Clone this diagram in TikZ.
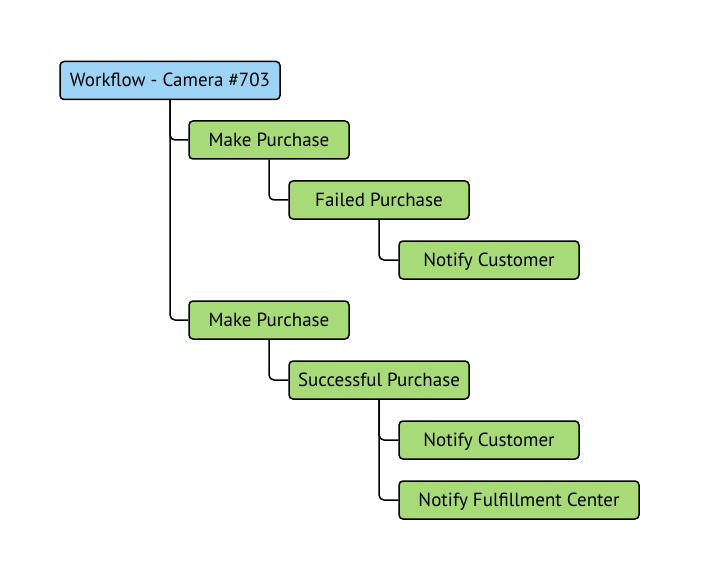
\documentclass[tikz,border=0pt]{standalone}
\usepackage{fontspec}
\setmainfont{PT Sans}
\definecolor{rootblue}{HTML}{9DD4F5}
\definecolor{leafgreen}{HTML}{A6DB78}
\begin{document}
\begin{tikzpicture}[x=1pt,y=-1pt,
  box/.style={draw=black,line width=1.5pt,rounded corners=4pt,minimum height=38pt,inner sep=0pt,text height=13pt,text depth=0pt,font=\fontsize{19}{22}\selectfont},
  rootbox/.style={box,fill=rootblue},
  greenbox/.style={box,fill=leafgreen},
  link/.style={draw=black,line width=1.5pt,rounded corners=5pt}]
\useasboundingbox (0,0) rectangle (709,580);
\node[rootbox,minimum width=220pt] (root) at (170,80.5) {Workflow - Camera \#703};
\node[greenbox,minimum width=160pt] (mp1) at (269,140) {Make Purchase};
\node[greenbox,minimum width=180pt] (fp) at (379,200) {Failed Purchase};
\node[greenbox,minimum width=180pt] (nc1) at (489,260) {Notify Customer};
\node[greenbox,minimum width=160pt] (mp2) at (269,320) {Make Purchase};
\node[greenbox,minimum width=180pt] (sp) at (379,380) {Successful Purchase};
\node[greenbox,minimum width=180pt] (nc2) at (489,440) {Notify Customer};
\node[greenbox,minimum width=240pt] (nfc) at (519,500) {Notify Fulfillment Center};
\draw[link] (root.south) |- (mp1.west);
\draw[link] (root.south) |- (mp2.west);
\draw[link] (mp1.south) |- (fp.west);
\draw[link] (fp.south) |- (nc1.west);
\draw[link] (mp2.south) |- (sp.west);
\draw[link] (sp.south) |- (nc2.west);
\draw[link] (sp.south) |- (nfc.west);
\end{tikzpicture}
\end{document}
